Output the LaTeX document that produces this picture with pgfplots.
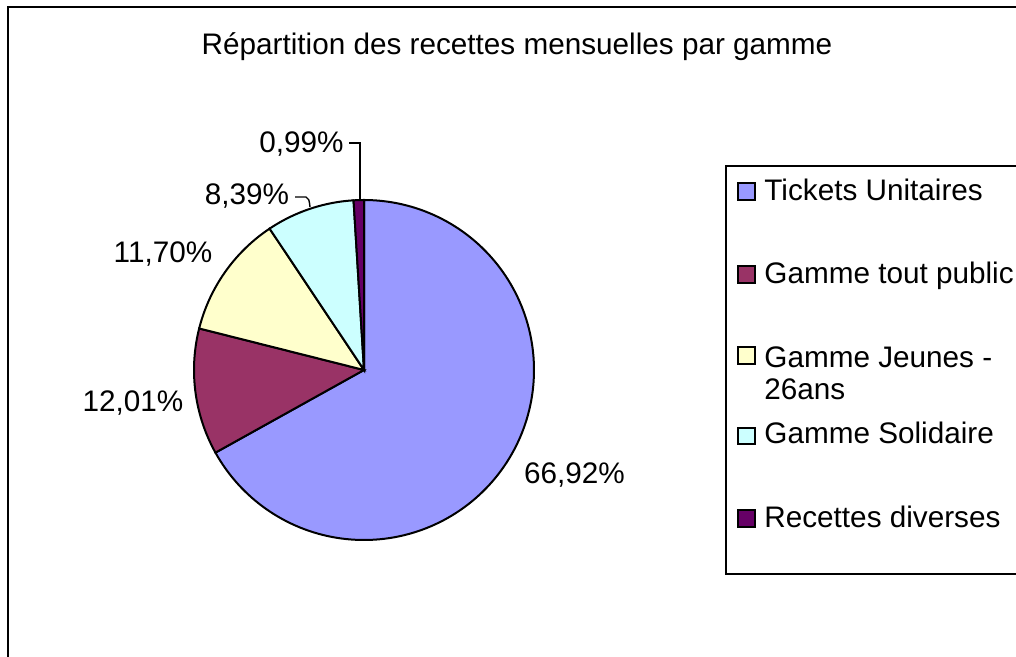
\documentclass[border=0pt]{standalone}
\usepackage{pgfplots}
\pgfplotsset{compat=1.18}
\usepackage{fontspec}
\setmainfont{Liberation Sans}
\definecolor{cTU}{HTML}{9999FF}
\definecolor{cTP}{HTML}{993366}
\definecolor{cJE}{HTML}{FFFFCC}
\definecolor{cSO}{HTML}{CCFFFF}
\definecolor{cRD}{HTML}{660066}
% shares (percent)
\def\pA{66.92}
\def\pB{12.01}
\def\pC{11.70}
\def\pD{8.39}
\def\pE{0.99}
\begin{document}
\begin{tikzpicture}[every node/.style={font=\fontsize{14.85}{17}\selectfont, inner sep=0pt}]
\path[use as bounding box] (0,0) rectangle (508pt,328.5pt);
\clip (0,0) rectangle (508pt,328.5pt);
\fill[white] (0,0) rectangle (508pt,328.5pt);
\pgfmathsetmacro\aA{\pA*3.6}
\pgfmathsetmacro\aB{\aA+\pB*3.6}
\pgfmathsetmacro\aC{\aB+\pC*3.6}
\pgfmathsetmacro\aD{\aC+\pD*3.6}
\begin{axis}[at={(0,0)}, anchor=south west, scale only axis,
  width=508pt, height=328.5pt, hide axis, clip=false,
  xmin=0, xmax=1016, ymin=0, ymax=657, y dir=reverse]
\addplot[fill=cTU, draw=black, line width=1pt, domain=0:\aA, samples=150, variable=\t]
  ({364+170*sin(\t)},{370-170*cos(\t)}) -- (axis cs:364,370) -- cycle;
\addplot[fill=cTP, draw=black, line width=1pt, domain=\aA:\aB, samples=40, variable=\t]
  ({364+170*sin(\t)},{370-170*cos(\t)}) -- (axis cs:364,370) -- cycle;
\addplot[fill=cJE, draw=black, line width=1pt, domain=\aB:\aC, samples=40, variable=\t]
  ({364+170*sin(\t)},{370-170*cos(\t)}) -- (axis cs:364,370) -- cycle;
\addplot[fill=cSO, draw=black, line width=1pt, domain=\aC:\aD, samples=30, variable=\t]
  ({364+170*sin(\t)},{370-170*cos(\t)}) -- (axis cs:364,370) -- cycle;
\addplot[fill=cRD, draw=black, line width=1pt, domain=\aD:360, samples=5, variable=\t]
  ({364+170*sin(\t)},{370-170*cos(\t)}) -- (axis cs:364,370) -- cycle;
% frame
\draw[line width=1pt] (axis cs:8,720) -- (axis cs:8,7) -- (axis cs:1100,7);
% title
\node[anchor=base] at (axis cs:517,55) {Répartition des recettes mensuelles par gamme};
% data labels
\node[anchor=base] at (axis cs:574.5,483) {66,92\%};
\node[anchor=base] at (axis cs:133,411) {12,01\%};
\node[anchor=base] at (axis cs:163,263) {11,70\%};
\node[anchor=base] at (axis cs:247,205) {8,39\%};
\node[anchor=base] at (axis cs:301.5,153) {0,99\%};
\draw[line width=0.7pt] (axis cs:349,143) -- (axis cs:360,143) -- (axis cs:360,200);
\draw[line width=0.7pt] (axis cs:295,197) -- (axis cs:306,197) .. controls (axis cs:309,199) .. (axis cs:310,207);
% legend
\draw[line width=1pt] (axis cs:726,166) rectangle (axis cs:1100,574);
\draw[line width=0.8pt, fill=cTU] (axis cs:738,183) rectangle (axis cs:755,200);
\node[anchor=base west] at (axis cs:764,200) {Tickets Unitaires};
\draw[line width=0.8pt, fill=cTP] (axis cs:738,266) rectangle (axis cs:755,283);
\node[anchor=base west] at (axis cs:764,283) {Gamme tout public};
\draw[line width=0.8pt, fill=cJE] (axis cs:738,347) rectangle (axis cs:755,364);
\node[anchor=base west] at (axis cs:764,367) {Gamme Jeunes -};
\node[anchor=base west] at (axis cs:764,399) {26ans};
\draw[line width=0.8pt, fill=cSO] (axis cs:738,428) rectangle (axis cs:755,444);
\node[anchor=base west] at (axis cs:764,443) {Gamme Solidaire};
\draw[line width=0.8pt, fill=cRD] (axis cs:738,510) rectangle (axis cs:755,527);
\node[anchor=base west] at (axis cs:764,527) {Recettes diverses};
\end{axis}
\end{tikzpicture}
\end{document}
